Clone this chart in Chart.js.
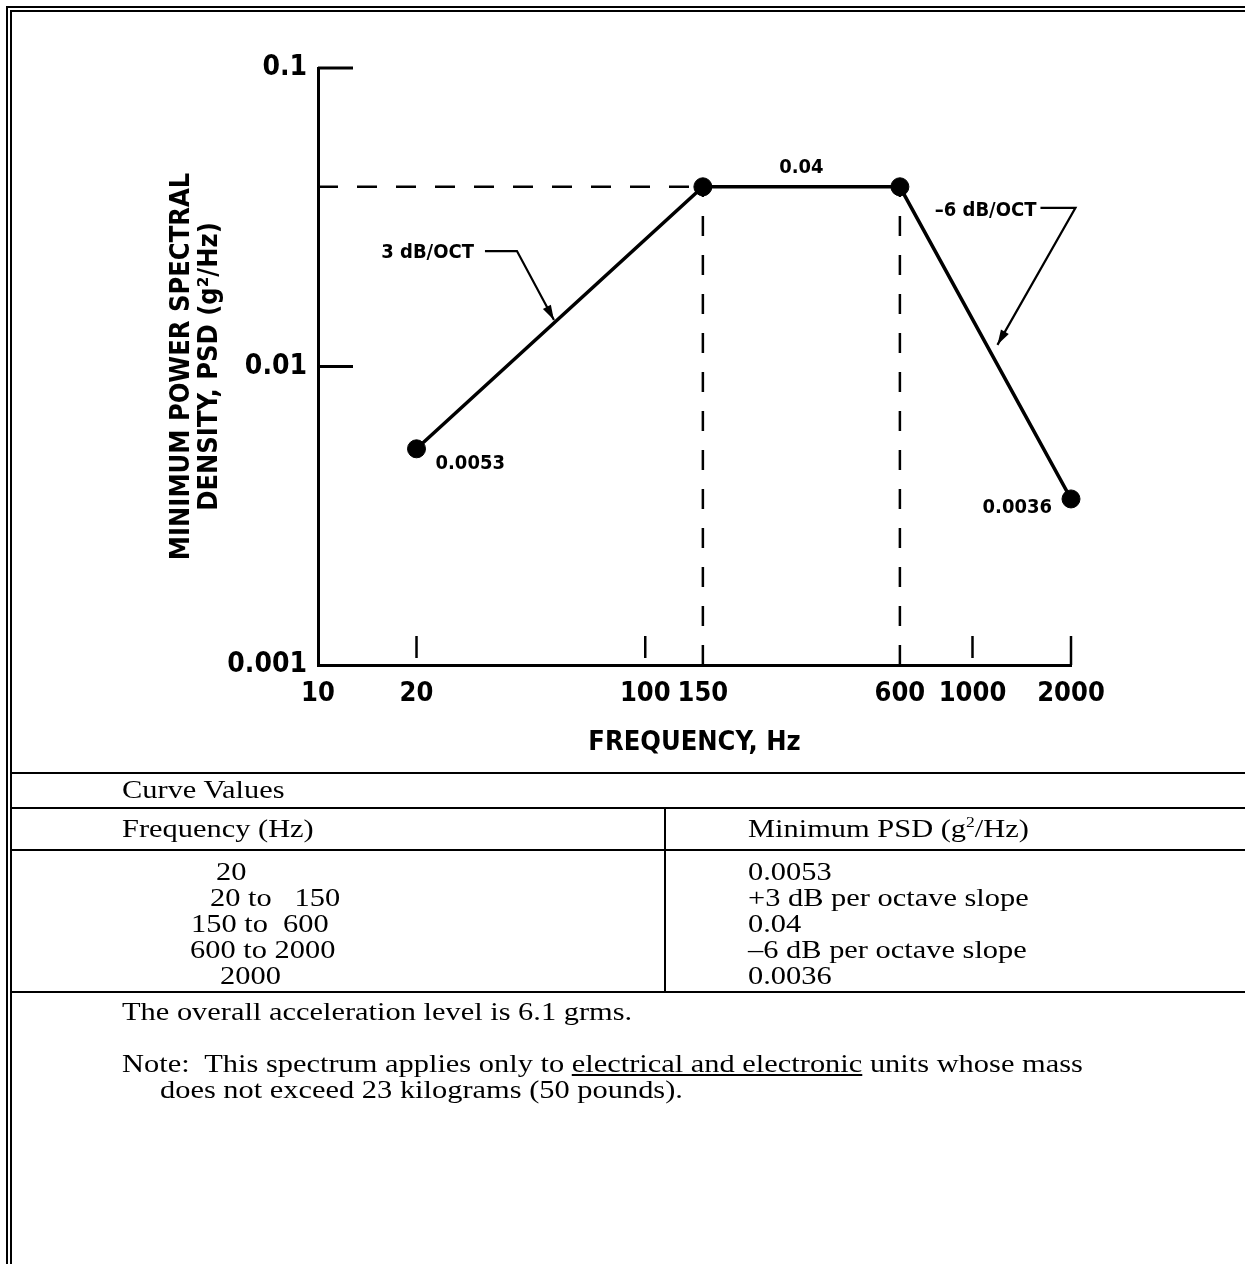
<!DOCTYPE html>
<html>
<head>
<meta charset="utf-8">
<title>Minimum PSD</title>
<script src="https://cdn.jsdelivr.net/npm/chart.js@4/dist/chart.umd.min.js"></script>
<style>
body { margin:0; background:#fff; width:1245px; height:1264px; position:relative; overflow:hidden; }
#psdChart { position:absolute; left:0; top:0; }
#frame { position:absolute; left:6px; top:6px; width:1260px; height:1280px; border-top:6px double #000; border-left:6px double #000; }
.hl { position:absolute; left:12px; width:1240px; height:2px; background:#000; }
.vl { position:absolute; width:2px; background:#000; }
.t { position:absolute; font-family:"Liberation Serif","Times New Roman",serif; font-size:26px; line-height:26px; white-space:pre; color:#000;
     transform:scaleX(1.17); transform-origin:0 0; }
sup { font-size:15px; line-height:0; vertical-align:10px; }
</style>
</head>
<body>
<canvas id="psdChart" width="1245" height="773"></canvas>
<div id="frame"></div>
<div id="table"></div>

<script>
// curve break points
var freqHz = [20, 150, 600, 2000];
var psd = [0.0053, 0.04, 0.04, 0.0036];
var pointLabels = ['0.0053', '0.04', '', '0.0036'];
var slopeLabels = ['3 dB/OCT', '\u20136 dB/OCT'];

// axis ticks
var xTicks = [10, 20, 100, 150, 600, 1000, 2000];
var yTicks = [0.001, 0.01, 0.1];

// table text
var tableFreq = ['20', '20 to   150', '150 to  600', '600 to 2000', '2000'];
var tablePsd = ['0.0053', '+3 dB per octave slope', '0.04', '\u20136 dB per octave slope', '0.0036'];

var sansNarrow = '"Liberation Sans Narrow", "DejaVu Sans Condensed", "Arial Narrow", "Liberation Sans", sans-serif';

// table / notes (html)
function addDiv(cls, style, html) {
  var d = document.createElement('div');
  d.className = cls;
  d.style.cssText = style;
  if (html) d.innerHTML = html;
  document.getElementById('table').appendChild(d);
}
addDiv('hl', 'top:772px;');
addDiv('t', 'left:122px;top:777px;', 'Curve Values');
addDiv('hl', 'top:807px;');
addDiv('t', 'left:122px;top:816px;', 'Frequency (Hz)');
addDiv('t', 'left:748px;top:816px;', 'Minimum PSD (g<sup>2</sup>/Hz)');
addDiv('hl', 'top:849px;');
addDiv('vl', 'left:664px;top:808px;height:184px;');
var rowLeft = [216, 210, 191, 190, 220];
for (var i = 0; i < tableFreq.length; i++) {
  addDiv('t', 'left:' + rowLeft[i] + 'px;top:' + (859 + i * 26) + 'px;', tableFreq[i]);
  addDiv('t', 'left:748px;top:' + (859 + i * 26) + 'px;', tablePsd[i]);
}
addDiv('hl', 'top:991px;');
addDiv('t', 'left:122px;top:999px;', 'The overall acceleration level is 6.1 grms.');
addDiv('t', 'left:122px;top:1051px;', 'Note:  This spectrum applies only to <u>electrical and electronic</u> units whose mass');
addDiv('t', 'left:160px;top:1077px;', 'does not exceed 23 kilograms (50 pounds).');

// ticks inside the plot, value labels, slope arrows
var annotate = {
  id: 'annotate',
  afterDatasetsDraw: function(chart) {
    var ctx = chart.ctx, x = chart.scales.x, y = chart.scales.y, area = chart.chartArea;
    var pts = freqHz.map(function(f, i) { return { x: x.getPixelForValue(f), y: y.getPixelForValue(psd[i]) }; });
    function line(x0, y0, x1, y1) { ctx.beginPath(); ctx.moveTo(x0, y0); ctx.lineTo(x1, y1); ctx.stroke(); }
    ctx.save();
    ctx.strokeStyle = '#000';
    ctx.fillStyle = '#000';
    ctx.lineCap = 'butt';

    ctx.lineWidth = 3;
    yTicks.forEach(function(v, i) {
      if (i === 0) return;
      var py = y.getPixelForValue(v);
      line(area.left, py, area.left + 35, py);
    });
    ctx.lineWidth = 2.5;
    xTicks.forEach(function(v, i) {
      if (i === 0 || v === freqHz[1] || v === freqHz[2]) return;
      var px = x.getPixelForValue(v);
      var last = i === xTicks.length - 1;
      line(px, area.bottom - 29, px, last ? area.bottom : area.bottom - 7);
    });

    // value labels by the points
    ctx.font = 'bold 20px ' + sansNarrow;
    ctx.textBaseline = 'middle';
    ctx.textAlign = 'left';
    ctx.fillText(pointLabels[0], pts[0].x + 19, pts[0].y + 15);
    ctx.textAlign = 'center';
    ctx.fillText(pointLabels[1], (pts[1].x + pts[2].x) / 2, pts[1].y - 19);
    ctx.textAlign = 'right';
    ctx.fillText(pointLabels[3], pts[3].x - 19, pts[3].y + 9);

    // slope callouts
    function arrow(x0, y0, x1, y1, x2, y2) {
      ctx.lineWidth = 2.2;
      ctx.beginPath(); ctx.moveTo(x0, y0); ctx.lineTo(x1, y1); ctx.lineTo(x2, y2); ctx.stroke();
      var a = Math.atan2(y2 - y1, x2 - x1), L = 15, W = 4.5;
      ctx.beginPath();
      ctx.moveTo(x2, y2);
      ctx.lineTo(x2 - L * Math.cos(a) + W * Math.sin(a), y2 - L * Math.sin(a) - W * Math.cos(a));
      ctx.lineTo(x2 - L * Math.cos(a) - W * Math.sin(a), y2 - L * Math.sin(a) + W * Math.cos(a));
      ctx.closePath(); ctx.fill();
    }
    var t1 = { x: pts[0].x + (pts[1].x - pts[0].x) * 0.48, y: pts[0].y + (pts[1].y - pts[0].y) * 0.48 };
    arrow(t1.x - 69, t1.y - 72, t1.x - 37, t1.y - 72, t1.x, t1.y - 3);
    ctx.textAlign = 'right';
    ctx.fillText(slopeLabels[0], t1.x - 80, t1.y - 70);

    var t2 = { x: pts[2].x + (pts[3].x - pts[2].x) * 0.5, y: pts[2].y + (pts[3].y - pts[2].y) * 0.5 };
    arrow(t2.x + 55, t2.y - 135, t2.x + 90, t2.y - 135, t2.x + 12, t2.y + 2);
    ctx.textAlign = 'right';
    ctx.fillText(slopeLabels[1], t2.x + 51, t2.y - 132);
    ctx.restore();
  }
};

var curve = freqHz.map(function(f, i) { return { x: f, y: psd[i] }; });
var dashStyle = { borderColor: '#000', borderWidth: 2.5, borderDash: [20, 19], pointRadius: 0, showLine: true, fill: false, order: 2 };

new Chart(document.getElementById('psdChart'), {
  type: 'scatter',
  data: {
    datasets: [
      { data: curve, showLine: true, borderColor: '#000', borderWidth: 3.5, pointRadius: 9, clip: false,
        pointBackgroundColor: '#000', pointBorderColor: '#000', pointBorderWidth: 1, tension: 0, order: 1 },
      Object.assign({ data: [{ x: xTicks[0], y: psd[1] }, { x: freqHz[1], y: psd[1] }] }, dashStyle),
      Object.assign({ data: [{ x: freqHz[1], y: yTicks[0] }, { x: freqHz[1], y: psd[1] }] }, dashStyle),
      Object.assign({ data: [{ x: freqHz[2], y: yTicks[0] }, { x: freqHz[2], y: psd[2] }] }, dashStyle)
    ]
  },
  options: {
    responsive: false,
    animation: false,
    layout: { padding: { left: 0, top: 68, right: 174, bottom: 0 } },
    plugins: { legend: { display: false }, tooltip: { enabled: false } },
    scales: {
      x: {
        type: 'logarithmic', min: xTicks[0], max: xTicks[xTicks.length - 1],
        grid: { display: false, drawTicks: false },
        border: { display: true, color: '#000', width: 3 },
        afterBuildTicks: function(s) { s.ticks = xTicks.map(function(v) { return { value: v }; }); },
        afterFit: function(s) { s.height = 108; },
        ticks: { autoSkip: false, maxRotation: 0, padding: 13, color: '#000',
          font: { family: sansNarrow, size: 27, weight: 'bold' }, callback: function(v) { return String(v); } },
        title: { display: true, text: 'FREQUENCY, Hz', color: '#000',
          font: { family: sansNarrow, size: 27, weight: 'bold' }, padding: { top: 0, bottom: 14 } }
      },
      y: {
        type: 'logarithmic', min: yTicks[0], max: yTicks[yTicks.length - 1],
        grid: { display: false, drawTicks: false },
        border: { display: true, color: '#000', width: 3 },
        afterBuildTicks: function(s) { s.ticks = yTicks.map(function(v) { return { value: v }; }); },
        afterFit: function(s) { s.width = 318; },
        ticks: { autoSkip: false, padding: 11, color: '#000',
          font: { family: sansNarrow, size: 28, weight: 'bold' }, callback: function(v) { return String(v); } },
        title: { display: true, text: ['MINIMUM POWER SPECTRAL', 'DENSITY, PSD (g\u00b2/Hz)'], color: '#000',
          font: { family: sansNarrow, size: 27, weight: 'bold', lineHeight: 1.04 }, padding: { top: 168, bottom: 0 } }
      }
    }
  },
  plugins: [annotate]
});
</script>
</body>
</html>
